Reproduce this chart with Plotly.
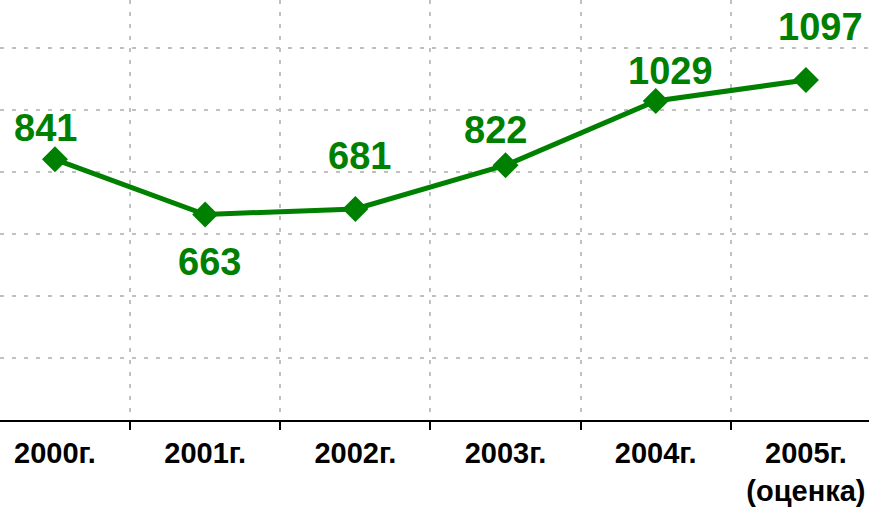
import plotly.graph_objects as go

categories = ["2000г.", "2001г.", "2002г.", "2003г.", "2004г.", "2005г.<br>(оценка)"]
values = [841, 663, 681, 822, 1029, 1097]
labels = ["841", "663", "681", "822", "1029", "1097"]

# label offsets in px (dx, dy up)
label_dx = [-9, 4, 4, -10, 15, 15]
label_dy = [31, -48, 53, 35, 30, 53]

GREEN = "#008000"
FONT = "Liberation Sans, Arial, sans-serif"

fig = go.Figure()
fig.add_trace(go.Scatter(
    x=categories, y=values, mode="lines+markers",
    line=dict(color=GREEN, width=5),
    marker=dict(symbol="diamond", size=20, color=GREEN),
    hoverinfo="skip", showlegend=False,
))

for c, v, t, dx, dy in zip(categories, values, labels, label_dx, label_dy):
    fig.add_annotation(
        x=c, y=v, xref="x", yref="y", text=t, showarrow=False,
        xshift=dx, yshift=dy,
        font=dict(family=FONT, size=38, color=GREEN, weight="bold"),
    )

fig.update_layout(
    width=869, height=507,
    margin=dict(l=0, r=0, t=0, b=87),
    plot_bgcolor="white", paper_bgcolor="white",
    xaxis=dict(
        type="category", range=[-0.366, 5.42],
        tickson="boundaries", showgrid=True, gridcolor="#c0c0c0", gridwidth=2,
        griddash="4px,8px",
        showline=True, linecolor="black", linewidth=2,
        ticks="outside", ticklen=8, tickwidth=2, tickcolor="black",
        ticklabelstandoff=6,
        tickfont=dict(family=FONT, size=29, color="black", weight="bold"),
        fixedrange=True,
    ),
    yaxis=dict(
        range=[0, 1355], dtick=200, tick0=0,
        showgrid=True, gridcolor="#c0c0c0", gridwidth=2, griddash="4px,8px",
        zeroline=False, showticklabels=False, showline=False,
        fixedrange=True,
    ),
)

fig.write_html(
    "out.html",
    config={"displayModeBar": False},
    post_script="document.body.style.margin='0';document.body.style.overflow='hidden';",
)
